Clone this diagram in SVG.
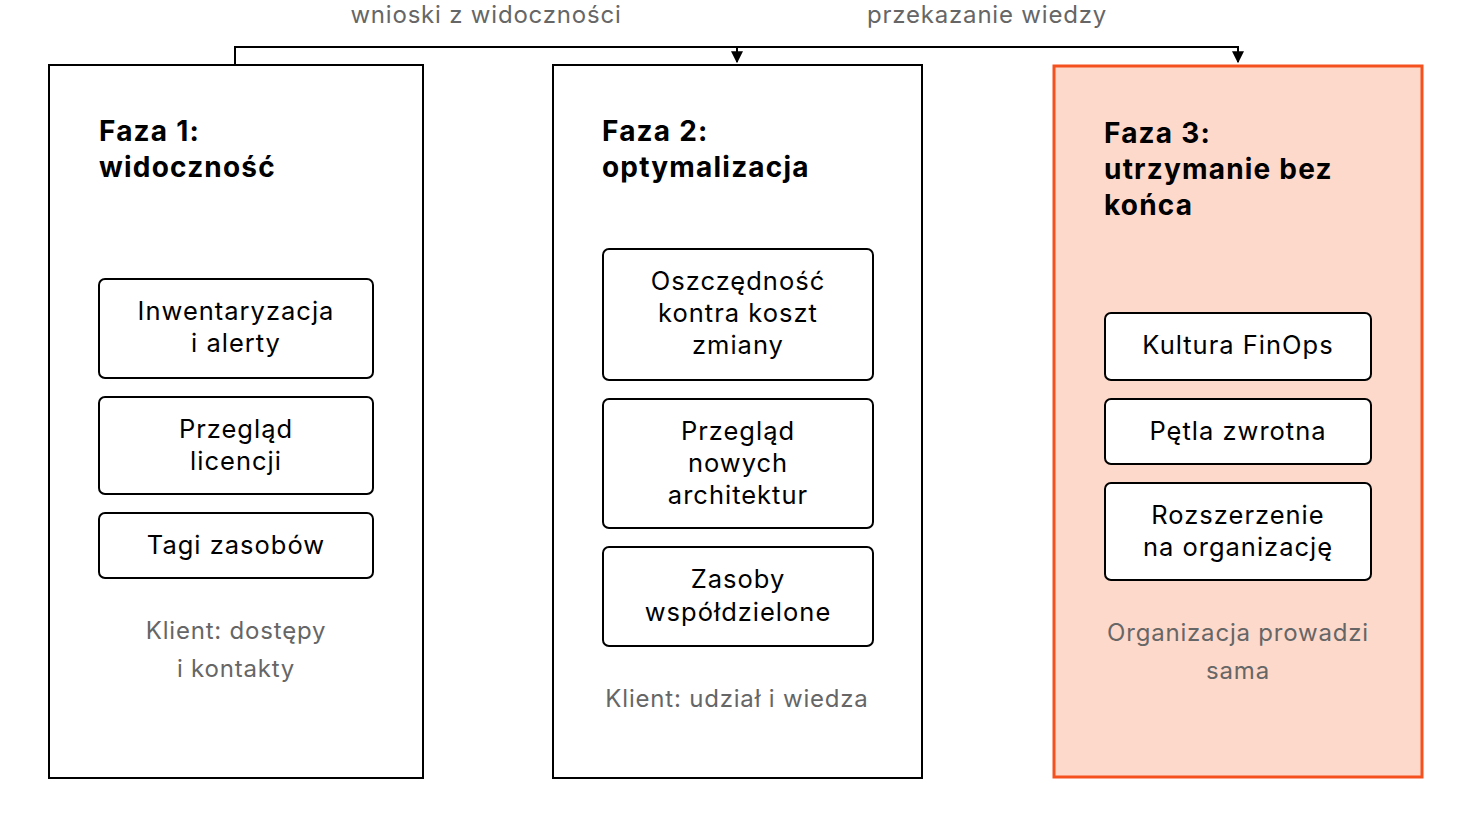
<svg xmlns="http://www.w3.org/2000/svg" width="1472" height="828" viewBox="0 0 1472 828">
<style>
.ph{fill:#fff;stroke:#000;stroke-width:2}
.ph3{fill:#fdd9cb;stroke:#f4511e;stroke-width:3}
.b{fill:#fff;stroke:#000;stroke-width:2}
.t{font-family:Inter,"Noto Sans",sans-serif;font-size:28px;font-weight:700;fill:#000;letter-spacing:1.2px}
.n{font-family:Inter,"Noto Sans",sans-serif;font-size:25.5px;fill:#000;text-anchor:middle;letter-spacing:1px}
.f{font-family:Inter,"Noto Sans",sans-serif;font-size:24px;fill:#666;text-anchor:middle;letter-spacing:0.8px}
.c{fill:none;stroke:#000;stroke-width:2}
</style>
<defs><marker id="a" viewBox="0 0 10 10" refX="9" refY="5" markerWidth="6" markerHeight="6" orient="auto"><path d="M0,0L10,5L0,10z" fill="#000"/></marker></defs>
<g id="connectors">
<path class="c" d="M235,65V47H1238V62" marker-end="url(#a)"/>
<path class="c" d="M737,47V62" marker-end="url(#a)"/>
<text class="f" x="486" y="23">wnioski z widoczności</text>
<text class="f" x="987" y="23">przekazanie wiedzy</text>
</g>
<g id="phase1">
<rect class="ph" x="49" y="65" width="374" height="713"/>
<text class="t" x="99" y="141">Faza 1:</text><text class="t" x="99" y="177">widoczność</text>
<rect class="b" x="99" y="279" width="274" height="99" rx="6"/>
<text class="n" x="236" y="320">Inwentaryzacja</text><text class="n" x="236" y="352">i alerty</text>
<rect class="b" x="99" y="397" width="274" height="97" rx="6"/>
<text class="n" x="236" y="438">Przegląd</text><text class="n" x="236" y="470">licencji</text>
<rect class="b" x="99" y="513" width="274" height="65" rx="6"/>
<text class="n" x="236" y="554">Tagi zasobów</text>
<text class="f" x="236" y="639">Klient: dostępy</text><text class="f" x="236" y="677">i kontakty</text>
</g>
<g id="phase2">
<rect class="ph" x="553" y="65" width="369" height="713"/>
<text class="t" x="602" y="141">Faza 2:</text><text class="t" x="602" y="177">optymalizacja</text>
<rect class="b" x="603" y="249" width="270" height="131" rx="6"/>
<text class="n" x="738" y="290">Oszczędność</text><text class="n" x="738" y="322">kontra koszt</text><text class="n" x="738" y="354">zmiany</text>
<rect class="b" x="603" y="399" width="270" height="129" rx="6"/>
<text class="n" x="738" y="440">Przegląd</text><text class="n" x="738" y="472">nowych</text><text class="n" x="738" y="504">architektur</text>
<rect class="b" x="603" y="547" width="270" height="99" rx="6"/>
<text class="n" x="738" y="588">Zasoby</text><text class="n" x="738" y="621">współdzielone</text>
<text class="f" x="737" y="707">Klient: udział i wiedza</text>
</g>
<g id="phase3">
<rect class="ph3" x="1054" y="66" width="368" height="711"/>
<text class="t" x="1104" y="143">Faza 3:</text><text class="t" x="1104" y="179">utrzymanie bez</text><text class="t" x="1104" y="215">końca</text>
<rect class="b" x="1105" y="313" width="266" height="67" rx="6"/>
<text class="n" x="1238" y="354">Kultura FinOps</text>
<rect class="b" x="1105" y="399" width="266" height="65" rx="6"/>
<text class="n" x="1238" y="440">Pętla zwrotna</text>
<rect class="b" x="1105" y="483" width="266" height="97" rx="6"/>
<text class="n" x="1238" y="524">Rozszerzenie</text><text class="n" x="1238" y="556">na organizację</text>
<text class="f" x="1238" y="641">Organizacja prowadzi</text><text class="f" x="1238" y="679">sama</text>
</g>
</svg>
